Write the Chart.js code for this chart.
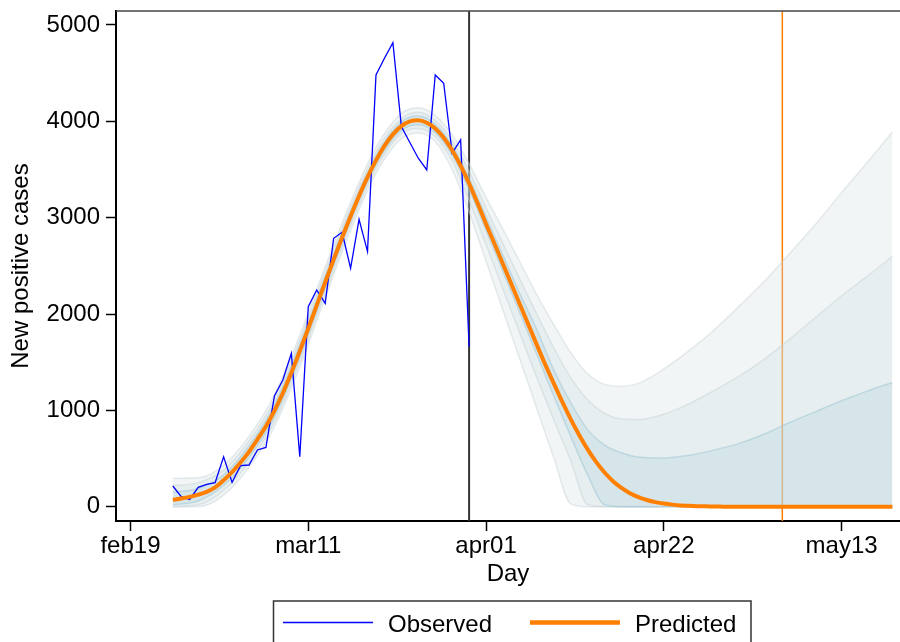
<!DOCTYPE html>
<html>
<head>
<meta charset="utf-8">
<title>New positive cases</title>
<script src="https://cdn.jsdelivr.net/npm/chart.js@4.4.1/dist/chart.umd.min.js"></script>
<style>
  html, body { margin: 0; padding: 0; background: #fff; }
  canvas { display: block; }
</style>
</head>
<body>
<canvas id="chart" width="900" height="642"></canvas>
<script>
// x values are days counted from feb19
const tickDays = [0, 21, 42, 63, 84];
const tickLabels = ["feb19", "mar11", "apr01", "apr22", "may13"];
const yTicks = [0, 1000, 2000, 3000, 4000, 5000];

// observed new positive cases, feb24 (day 5) .. mar30 (day 40)
const obsFirstDay = 5;
const observed = [215, 104, 76, 201, 232, 249, 519, 253, 426, 433, 589, 616,
  1149, 1315, 1592, 519, 2076, 2250, 2111, 2786, 2848, 2475, 2983, 2648,
  4481, 4655, 4817, 3945, 3780, 3617, 3495, 4481, 4395, 3669, 3807, 1661];

// predicted curve, day 5 .. day 90
const predFirstDay = 5;
const predicted = [72, 85, 102, 125, 155, 200, 275, 360, 460, 570, 700, 835,
  995, 1180, 1390, 1615, 1850, 2090, 2330, 2565, 2795, 3015, 3225, 3420,
  3595, 3745, 3865, 3950, 4000, 4010, 3985, 3925, 3830, 3700, 3540, 3355,
  3150, 2935, 2730, 2520, 2310, 2100, 1890, 1680, 1475, 1280, 1090, 910,
  745, 595, 465, 355, 265, 195, 140, 100, 70, 48, 33, 22, 14, 9, 6, 4, 2, 1,
  0, 0, 0, 0, 0, 0, 0, 0, 0, 0, 0, 0, 0, 0, 0, 0, 0, 0, 0, 0];

// uncertainty bands
const bandDays = [5, 8, 11, 14, 17, 20, 23, 26, 29, 32, 34, 36, 38, 40, 42, 44,
  46, 48, 50, 52, 54, 56, 58, 60, 63, 66, 69, 72, 75, 78, 81, 84, 87, 90];
const outerHi = [295, 300, 430, 730, 1160, 1780, 2490, 3160, 3730, 4080, 4140,
  4060, 3860, 3560, 3210, 2880, 2540, 2200, 1890, 1600, 1380, 1270, 1250, 1280,
  1430, 1620, 1840, 2090, 2350, 2640, 2940, 3260, 3570, 3890];
const outerLo = [0, 0, 120, 410, 830, 1450, 2170, 2870, 3460, 3820, 3880, 3790,
  3500, 3060, 2550, 2040, 1530, 1020, 510, 30, 0, 0, 0, 0, 0, 0, 0, 0, 0, 0, 0,
  0, 0, 0];
const midHi = [220, 250, 380, 680, 1110, 1730, 2440, 3110, 3680, 4030, 4095,
  4010, 3800, 3480, 3100, 2730, 2360, 2000, 1650, 1340, 1110, 970, 910, 905,
  960, 1070, 1210, 1360, 1540, 1750, 1970, 2190, 2390, 2600];
const midLo = [0, 20, 170, 460, 880, 1500, 2220, 2920, 3510, 3870, 3925, 3840,
  3590, 3180, 2720, 2260, 1800, 1340, 900, 480, 20, 0, 0, 0, 0, 0, 0, 0, 0, 0,
  0, 0, 0, 0];
const innerHi = [150, 190, 330, 630, 1060, 1680, 2390, 3065, 3640, 3995, 4055,
  3970, 3750, 3410, 3010, 2610, 2210, 1840, 1420, 1080, 800, 640, 560, 515,
  505, 535, 590, 660, 760, 880, 990, 1100, 1200, 1290];
const innerLo = [20, 60, 220, 510, 930, 1550, 2270, 2965, 3550, 3905, 3965,
  3880, 3650, 3290, 2870, 2440, 2010, 1580, 1150, 730, 330, 20, 0, 0, 0, 0, 0,
  0, 0, 0, 0, 0, 0, 0];

// reference lines: last observed day (mar30) and may06
const vlineDays = [40, 77];

const xMin = -1.71, xMax = 90.9;
const yMin = -148, yMax = 5145;

const FONT = "'Liberation Sans', Arial, Helvetica, sans-serif";
const ORANGE = "#ff7f00";

function seq(first, values) {
  return values.map(function (v, i) { return { x: first + i, y: v }; });
}
function banded(values) {
  return bandDays.map(function (d, i) { return { x: d, y: values[i] }; });
}
function bandPair(lo, hi, loIdx, fillColor, edgeColor, order) {
  const common = {
    type: "line", pointRadius: 0, borderWidth: 1.5, borderColor: edgeColor,
    cubicInterpolationMode: "monotone", order: order,
  };
  return [
    Object.assign({ label: "lo", data: banded(lo), fill: false }, common),
    Object.assign({ label: "hi", data: banded(hi), fill: { target: loIdx },
      backgroundColor: fillColor }, common),
  ];
}
function vline(day, color, width) {
  return {
    type: "line", label: "vline", data: [{ x: day, y: yMin }, { x: day, y: yMax }],
    borderColor: color, borderWidth: width, pointRadius: 0, fill: false, order: 9,
  };
}

const datasets = [
  { label: "Predicted", data: seq(predFirstDay, predicted), borderColor: ORANGE,
    borderWidth: 4, pointRadius: 0, fill: false, cubicInterpolationMode: "monotone",
    order: 0 },
  { label: "Observed", data: seq(obsFirstDay, observed), borderColor: "#0000ff",
    borderWidth: 1.3, pointRadius: 0, fill: false, tension: 0, order: 1 },
]
  .concat(bandPair(innerLo, innerHi, 2, "rgba(168,205,220,0.3)", "rgba(150,192,208,0.45)", 2))
  .concat(bandPair(midLo, midHi, 4, "rgba(205,222,226,0.3)", "rgba(196,208,213,0.45)", 3))
  .concat(bandPair(outerLo, outerHi, 6, "rgba(212,222,225,0.3)", "rgba(200,210,214,0.45)", 4))
  .concat([vline(vlineDays[0], "#333333", 2), vline(vlineDays[1], ORANGE, 1.5)]);

// top frame line and the boxed legend below the axis title
const framePlugin = {
  id: "frame",
  afterDraw: function (chart) {
    const ctx = chart.ctx, a = chart.chartArea;
    ctx.save();
    ctx.strokeStyle = "#444";
    ctx.lineWidth = 1.5;
    ctx.beginPath();
    ctx.moveTo(a.left, a.top);
    ctx.lineTo(a.right, a.top);
    ctx.stroke();

    // legend
    ctx.strokeStyle = "#333";
    ctx.lineWidth = 1.5;
    ctx.strokeRect(273.5, 601, 477.5, 60);
    const items = [
      { ds: chart.data.datasets[1], x: 283, lw: 1.5 },
      { ds: chart.data.datasets[0], x: 530, lw: 4.5 },
    ];
    ctx.font = "24px " + FONT;
    ctx.fillStyle = "#000";
    ctx.textBaseline = "alphabetic";
    items.forEach(function (it) {
      ctx.strokeStyle = it.ds.borderColor;
      ctx.lineWidth = it.lw;
      ctx.beginPath();
      ctx.moveTo(it.x, 622.5);
      ctx.lineTo(it.x + 90, 622.5);
      ctx.stroke();
      ctx.fillText(it.ds.label, it.x + 105, 631.5);
    });
    ctx.restore();
  },
};

new Chart(document.getElementById("chart"), {
  type: "line",
  data: { datasets: datasets },
  plugins: [framePlugin],
  options: {
    responsive: false,
    devicePixelRatio: 1,
    animation: false,
    layout: { padding: { left: 0, right: 0, top: 11, bottom: 53.6 } },
    plugins: {
      legend: { display: false },
      tooltip: { enabled: false },
    },
    scales: {
      x: {
        type: "linear", min: xMin, max: xMax,
        afterBuildTicks: function (s) { s.ticks = tickDays.map(function (v) { return { value: v }; }); },
        afterFit: function (s) { s.height = 67.4; s.paddingLeft = 0; s.paddingRight = 0; },
        ticks: {
          color: "#000", padding: 1, maxRotation: 0, autoSkip: false,
          font: { family: FONT, size: 24 },
          callback: function (v) { return tickLabels[tickDays.indexOf(v)]; },
        },
        grid: { drawOnChartArea: false, drawTicks: true, tickLength: 10, tickColor: "#000", tickWidth: 1.5 },
        border: { display: true, color: "#000", width: 2 },
        title: { display: true, text: "Day", color: "#000", padding: { top: 0, bottom: 0 },
          font: { family: FONT, size: 24 } },
      },
      y: {
        type: "linear", min: yMin, max: yMax,
        afterBuildTicks: function (s) { s.ticks = yTicks.map(function (v) { return { value: v }; }); },
        afterFit: function (s) { s.width = 116; s.paddingTop = 0; s.paddingBottom = 0; },
        ticks: { color: "#000", padding: 6, font: { family: FONT, size: 24 },
          callback: function (v) { return String(v); } },
        grid: { drawOnChartArea: false, drawTicks: true, tickLength: 10, tickColor: "#000", tickWidth: 1.5 },
        border: { display: true, color: "#000", width: 2 },
        title: { display: true, text: "New positive cases", color: "#000",
          padding: { top: 7, bottom: 0 }, font: { family: FONT, size: 24 } },
      },
    },
  },
});
</script>
</body>
</html>
